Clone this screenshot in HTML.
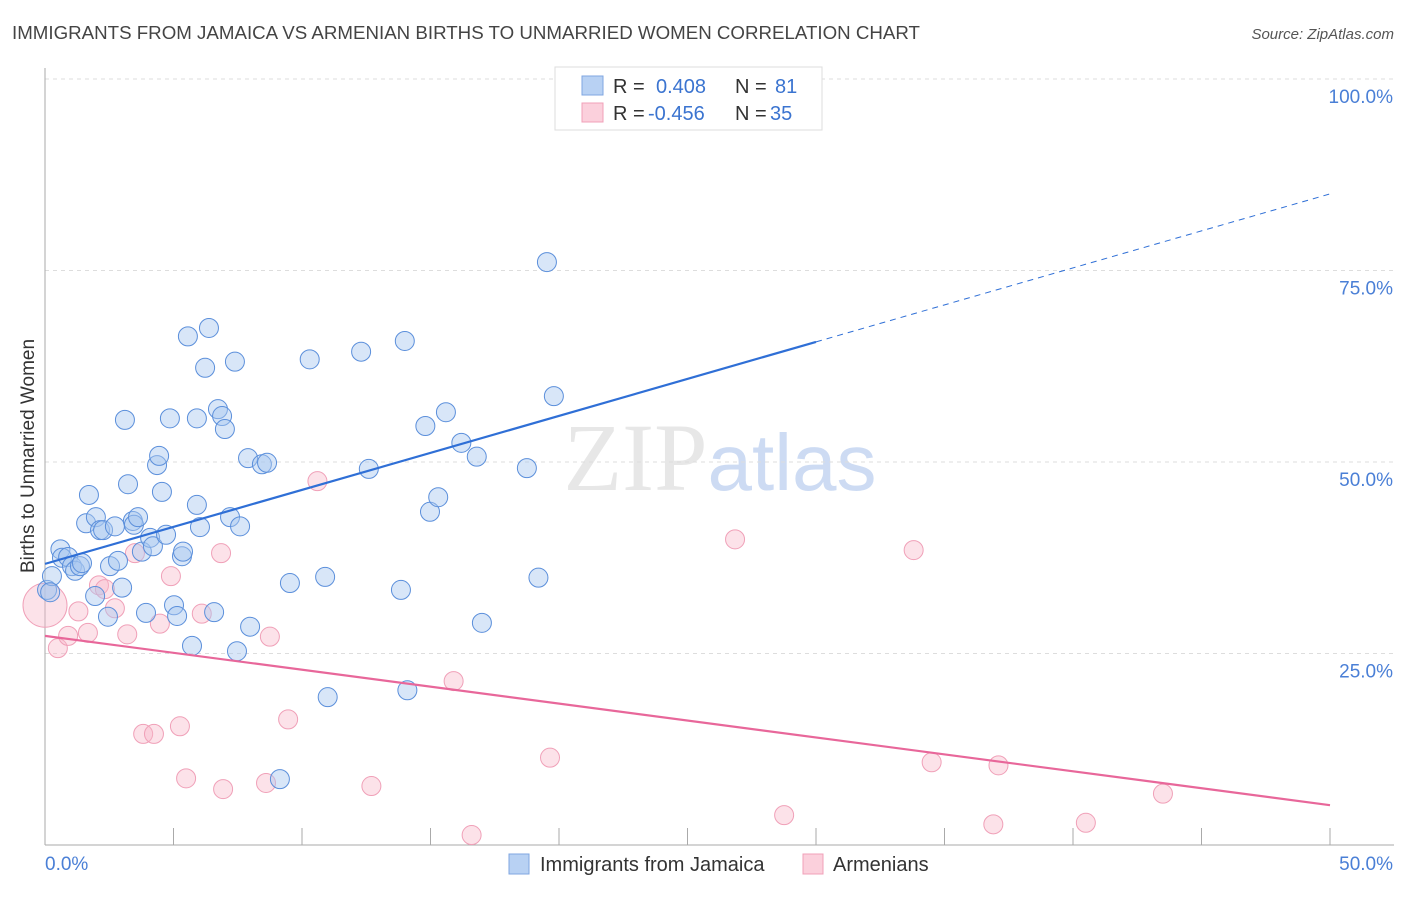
<!DOCTYPE html>
<html><head><meta charset="utf-8"><style>
body{margin:0;background:#fff;font-family:"Liberation Sans",sans-serif;}
svg text{font-family:"Liberation Sans",sans-serif;}
</style></head><body>
<svg id="chart" width="1406" height="892" xmlns="http://www.w3.org/2000/svg">
<text x="12" y="39" font-size="18" fill="#444" textLength="908" lengthAdjust="spacingAndGlyphs">IMMIGRANTS FROM JAMAICA VS ARMENIAN BIRTHS TO UNMARRIED WOMEN CORRELATION CHART</text>
<text x="1394" y="39" font-size="15" fill="#555" text-anchor="end" font-style="italic">Source: ZipAtlas.com</text>
<text transform="translate(34,456) rotate(-90)" font-size="19" fill="#333" text-anchor="middle">Births to Unmarried Women</text>
<text x="720" y="490" font-size="96" text-anchor="middle" fill="#ddd" opacity="0.7"><tspan font-family="Liberation Serif">ZIP</tspan><tspan fill="#b8cdef" font-size="80">atlas</tspan></text>
<g id="grid"></g><g id="axes"></g><g id="marks"></g>
<g>
<rect x="555" y="67" width="267" height="63" fill="#fff" stroke="#ddd"/>
<rect x="582" y="76" width="21" height="19" fill="#b8d1f3" stroke="#7fa6e0"/>
<rect x="582" y="103" width="21" height="19" fill="#fbd0dc" stroke="#f0a0b8"/>
<text x="613" y="93" font-size="20" fill="#333">R = </text><text x="656" y="93" font-size="20" fill="#3b74d0">0.408</text>
<text x="735" y="93" font-size="20" fill="#333">N = </text><text x="775" y="93" font-size="20" fill="#3b74d0">81</text>
<text x="613" y="120" font-size="20" fill="#333">R = </text><text x="648" y="120" font-size="20" fill="#3b74d0">-0.456</text>
<text x="735" y="120" font-size="20" fill="#333">N = </text><text x="770" y="120" font-size="20" fill="#3b74d0">35</text>
</g>
<g>
<rect x="509" y="854" width="20" height="20" fill="#b8d1f3" stroke="#7fa6e0"/>
<text x="540" y="871" font-size="20" fill="#333">Immigrants from Jamaica</text>
<rect x="803" y="854" width="20" height="20" fill="#fbd0dc" stroke="#f0a0b8"/>
<text x="833" y="871" font-size="20" fill="#333">Armenians</text>
</g>
</svg>
<script>
const blueX=[0.08,0.27,0.2,0.6,0.66,0.9,1.05,1.17,1.36,1.44,1.71,1.6,1.95,1.98,2.14,2.26,2.45,2.53,2.72,2.84,3.0,3.11,3.23,3.42,3.46,3.62,3.77,3.93,4.09,4.2,4.36,4.44,4.55,4.71,4.86,5.02,5.14,5.33,5.37,5.56,5.72,5.91,5.91,6.03,6.23,6.38,6.58,6.73,6.89,7.0,7.2,7.39,7.47,7.59,7.9,7.98,8.44,8.64,9.14,9.53,10.3,10.9,11.0,12.3,12.6,13.85,14.0,14.1,14.8,14.98,15.3,15.6,16.2,16.8,17.0,18.75,19.2,19.53,19.8,27.2];
const blueY=[33.3,35.1,33.0,38.6,37.5,37.6,36.4,35.8,36.4,36.8,45.7,42.0,32.5,42.8,41.1,41.1,29.8,36.4,41.6,37.1,33.6,55.5,47.1,42.3,41.8,42.8,38.3,30.3,40.1,39.0,49.6,50.8,46.1,40.5,55.7,31.3,29.9,37.7,38.3,66.4,26.0,55.7,44.4,41.5,62.3,67.5,30.4,56.9,56.0,54.3,42.8,63.1,25.3,41.6,50.5,28.5,49.7,49.9,8.6,34.2,63.4,35.0,19.3,64.4,49.1,33.3,65.8,20.2,54.7,43.5,45.4,56.5,52.5,50.7,29.0,49.2,34.9,76.1,58.6,100];
const pinkX=[0,0.5,0.9,1.3,1.67,2.1,2.33,2.72,3.2,3.5,3.82,4.24,4.47,4.9,5.25,5.49,6.1,6.85,6.93,8.6,8.75,9.46,10.6,12.7,15.9,16.6,19.65,26.85,28.76,33.8,34.5,36.9,37.1,40.5,43.5];
const pinkY=[31.3,25.7,27.3,30.5,27.7,33.9,33.4,30.9,27.5,38.1,14.5,14.5,28.9,35.1,15.5,8.7,30.2,38.1,7.3,8.1,27.2,16.4,47.5,7.7,21.4,1.3,11.4,39.9,3.9,38.5,10.8,2.7,10.4,2.9,6.7];
const blueTrend=[36.7,85.0];
const blueSolidEnd=30;
const pinkTrend=[27.3,5.2];
const yTicks=[0,25,50,75,100];
const yTickLabels=["","25.0%","50.0%","75.0%","100.0%"];
const xTicks=[0,5,10,15,20,25,30,35,40,45,50];

const NS="http://www.w3.org/2000/svg";
const sx=v=>45+v*1285/50, sy=v=>845-v*7.66;
function mk(tag,attrs,parent){const e=document.createElementNS(NS,tag);for(const k in attrs)e.setAttribute(k,attrs[k]);parent.appendChild(e);return e;}
const grid=document.getElementById('grid'),axes=document.getElementById('axes'),marks=document.getElementById('marks');
yTicks.forEach((t,i)=>{
  if(t>0){const l=mk('line',{x1:45,x2:1394,y1:sy(t),y2:sy(t),stroke:'#ddd','stroke-dasharray':'4,4'},grid);
  
  }
  if(yTickLabels[i]){const tx=mk('text',{x:1393,y:sy(t)+24,'font-size':19,fill:'#4a7fd6','text-anchor':'end'},axes);tx.textContent=yTickLabels[i];
  
  }
});
let a=mk('line',{x1:45,x2:45,y1:68,y2:845,stroke:'#aaa'},axes);


a=mk('line',{x1:45,x2:1394,y1:845,y2:845,stroke:'#aaa'},axes);


xTicks.forEach(t=>{const l=mk('line',{x1:sx(t),x2:sx(t),y1:828,y2:845,stroke:'#aaa'},axes);
  
  });
let t0=mk('text',{x:45,y:870,'font-size':19,fill:'#4a7fd6'},axes);t0.textContent='0.0%';


t0=mk('text',{x:1393,y:870,'font-size':19,fill:'#4a7fd6','text-anchor':'end'},axes);t0.textContent='50.0%';



pinkX.forEach((x,i)=>{const c=mk('circle',{cx:sx(x),cy:sy(pinkY[i]),r:i===0?22:9.5,fill:'#f7b6c9','fill-opacity':0.4,stroke:'#f0a0b8','stroke-width':1},marks);
  
  });
blueX.forEach((x,i)=>{const c=mk('circle',{cx:sx(x),cy:sy(blueY[i]),r:9.5,fill:'#a9c8f0','fill-opacity':0.45,stroke:'#5b8fdb','stroke-width':1},marks);
  
  });
const by=x=>blueTrend[0]+(blueTrend[1]-blueTrend[0])*x/50;
let l=mk('line',{x1:sx(0),y1:sy(by(0)),x2:sx(blueSolidEnd),y2:sy(by(blueSolidEnd)),stroke:'#2f6fd6','stroke-width':2.2},marks);


l=mk('line',{x1:sx(blueSolidEnd),y1:sy(by(blueSolidEnd)),x2:sx(50),y2:sy(by(50)),stroke:'#2f6fd6','stroke-width':1,'stroke-dasharray':'6,5'},marks);


l=mk('line',{x1:sx(0),y1:sy(pinkTrend[0]),x2:sx(50),y2:sy(pinkTrend[1]),stroke:'#e8679a','stroke-width':2.2},marks);


</script>
</body></html>
